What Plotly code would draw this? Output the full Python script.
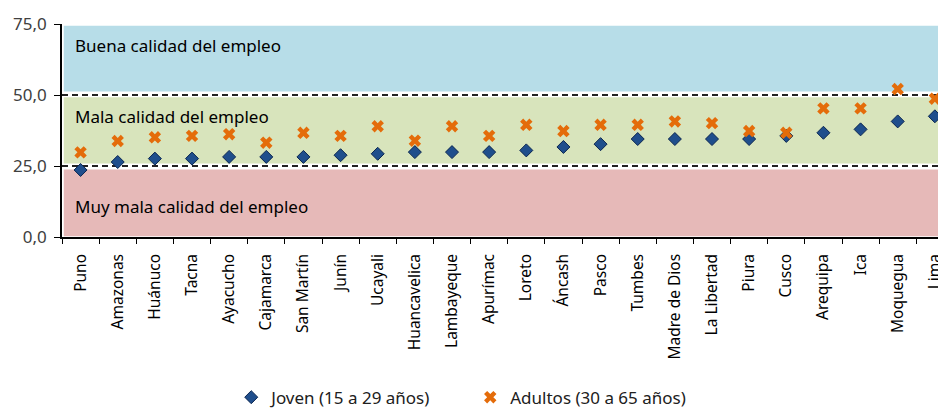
import plotly.graph_objects as go

regiones = ["Puno", "Amazonas", "Huánuco", "Tacna", "Ayacucho", "Cajamarca", "San Martín",
            "Junín", "Ucayali", "Huancavelica", "Lambayeque", "Apurímac", "Loreto", "Áncash",
            "Pasco", "Tumbes", "Madre de Dios", "La Libertad", "Piura", "Cusco", "Arequipa",
            "Ica", "Moquegua", "Lima"]
joven = [23.6, 26.4, 27.6, 27.6, 28.2, 28.2, 28.2, 28.8, 29.3, 29.9, 29.9, 29.9, 30.5, 31.7,
         32.7, 34.5, 34.5, 34.5, 34.5, 35.6, 36.7, 37.9, 40.7, 42.5]
adultos = [29.8, 33.8, 35.1, 35.6, 36.2, 33.2, 36.7, 35.6, 39.0, 33.9, 39.0, 35.6, 39.5, 37.3,
           39.5, 39.5, 40.7, 40.1, 37.3, 36.7, 45.3, 45.3, 52.1, 48.7]

# franjas de calidad del empleo: (desde, hasta, color, etiqueta, y de etiqueta)
franjas = [
    (51.2, 74.4, "#B7DDE8", "Buena calidad del empleo", 67.3),
    (25.9, 49.2, "#D8E4BC", "Mala calidad del empleo", 42.3),
    (0.3, 23.8, "#E6B9B8", "Muy mala calidad del empleo", 10.6),
]

fig = go.Figure()

fig.add_trace(go.Scatter(
    x=regiones, y=joven, mode="markers", name="Joven (15 a 29 años)",
    marker=dict(symbol="diamond", size=10, color="#1F4E8C",
                line=dict(width=1, color="#0B2650")),
))
fig.add_trace(go.Scatter(
    x=regiones, y=adultos, mode="markers", name="Adultos (30 a 65 años)",
    marker=dict(symbol="x", size=11, color="#E46C0A", line=dict(width=0)),
))

for y0, y1, color, etiqueta, ytxt in franjas:
    fig.add_shape(type="rect", xref="paper", yref="y", x0=0.002, x1=1, y0=y0, y1=y1,
                  fillcolor=color, line=dict(width=0), layer="below")
    fig.add_annotation(xref="paper", yref="y", x=0.012, y=ytxt, text=etiqueta,
                       showarrow=False, xanchor="left",
                       font=dict(size=17, color="#000000"))

# la página tiene 8px de margen en el body: se compensa con el tamaño
fig.update_layout(
    width=938, height=408,
    margin=dict(l=54, r=0, t=16, b=179),
    plot_bgcolor="white", paper_bgcolor="white",
    font=dict(family="Noto Sans", size=14, color="#000000"),
    separators=", ",
    showlegend=True,
    legend=dict(orientation="h", xref="container", yref="container",
                x=0.238, xanchor="left", y=0.045, yanchor="middle",
                entrywidth=194, itemwidth=30, font=dict(size=17, color="#202020")),
    xaxis=dict(
        tickangle=-90, tickson="boundaries", ticks="outside", ticklen=5,
        tickcolor="black", showline=True, linecolor="black", linewidth=1.5,
        showgrid=False, range=[-0.5, len(regiones) - 0.7], automargin=False,
        ticklabelstandoff=9, tickfont=dict(size=15.5, color="#000000"),
    ),
    yaxis=dict(
        range=[0, 75], dtick=25, tickformat=".1f", ticks="outside", ticklen=6,
        tickcolor="black", showline=True, linecolor="black", linewidth=1.5,
        showgrid=True, gridcolor="#222222", griddash="6px,4px", gridwidth=1.5,
        zeroline=False, automargin=False, ticklabelstandoff=4,
        tickfont=dict(size=17, color="#404040"),
    ),
)

fig.write_html("out.html")
